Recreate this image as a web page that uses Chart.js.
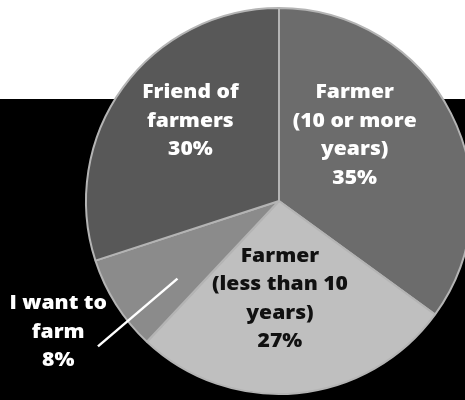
<!DOCTYPE html>
<html>
<head>
<meta charset="utf-8">
<script src="https://cdn.jsdelivr.net/npm/chart.js@4/dist/chart.umd.min.js"></script>
<style>
  html, body { margin: 0; padding: 0; background: #fff; overflow: hidden; width: 465px; height: 400px; }
  #wrap { position: absolute; left: 0; top: 0; width: 465px; height: 400px; overflow: hidden; }
  canvas { position: absolute; left: 0; top: 0; }
</style>
</head>
<body>
<div id="wrap"><canvas id="c" width="480" height="400"></canvas></div>
<script>
// ---- data ----
const categories = ["Farmer (10 or more years)", "Farmer (less than 10 years)", "I want to farm", "Friend of farmers"];
const shares = [35, 27, 8, 30];
const labelLines = [
  ["Farmer", "(10 or more", "years)"],
  ["Farmer", "(less than 10", "years)"],
  ["I want to", "farm"],
  ["Friend of", "farmers"]
];

// ---- styling / layout (not data) ----
const sliceColors = ["#6c6c6c", "#bfbfbf", "#8b8b8b", "#585858"];
const textColors = ["#ffffff", "#111111", "#ffffff", "#ffffff"];
// label block centres, as fractions of the outer radius from the pie centre
const labelOffsets = [[0.392, -0.338], [0.005, 0.510], [-1.144, 0.680], [-0.459, -0.412]];
// leader line for the outside label (index 2), fractions of radius
const leader = { idx: 2, from: [-0.938, 0.753], to: [-0.526, 0.402] };

const bgPlugin = {
  id: 'bg',
  beforeDraw(chart) {
    const ctx = chart.ctx;
    ctx.save();
    ctx.fillStyle = '#ffffff';
    ctx.fillRect(0, 0, chart.width, chart.height);
    ctx.fillStyle = '#000000';
    ctx.fillRect(0, 99, chart.width, chart.height - 99);
    ctx.restore();
  }
};

const labelPlugin = {
  id: 'labels',
  afterDatasetsDraw(chart) {
    const ctx = chart.ctx;
    const meta = chart.getDatasetMeta(0);
    const arc0 = meta.data[0];
    const cx = arc0.x, cy = arc0.y, R = arc0.outerRadius;
    const lh = 28.5;
    const sx = 1.14;
    ctx.save();
    ctx.font = '800 18.5px "Open Sans", sans-serif';
    ctx.textAlign = 'center';
    ctx.textBaseline = 'middle';
    meta.data.forEach((arc, i) => {
      const lines = labelLines[i].concat([shares[i] + '%']);
      const x = cx + labelOffsets[i][0] * R;
      const y = cy + labelOffsets[i][1] * R;
      const top = y - (lines.length - 1) * lh / 2;
      ctx.fillStyle = textColors[i];
      lines.forEach((t, k) => {
        ctx.save();
        ctx.translate(x, top + k * lh);
        ctx.scale(sx, 1);
        ctx.fillText(t, 0, 0);
        ctx.restore();
      });
    });
    ctx.strokeStyle = '#ffffff';
    ctx.lineWidth = 2.5;
    ctx.beginPath();
    ctx.moveTo(cx + leader.from[0] * R, cy + leader.from[1] * R);
    ctx.lineTo(cx + leader.to[0] * R, cy + leader.to[1] * R);
    ctx.stroke();
    ctx.restore();
  }
};

new Chart(document.getElementById('c'), {
  type: 'pie',
  data: {
    labels: categories,
    datasets: [{
      data: shares,
      backgroundColor: sliceColors,
      borderColor: '#b4b4b4',
      borderWidth: 2
    }]
  },
  options: {
    responsive: false,
    animation: false,
    layout: { padding: { left: 85, right: 7, top: 7, bottom: 5 } },
    plugins: { legend: { display: false }, tooltip: { enabled: false } }
  },
  plugins: [bgPlugin, labelPlugin]
});
</script>
</body>
</html>
